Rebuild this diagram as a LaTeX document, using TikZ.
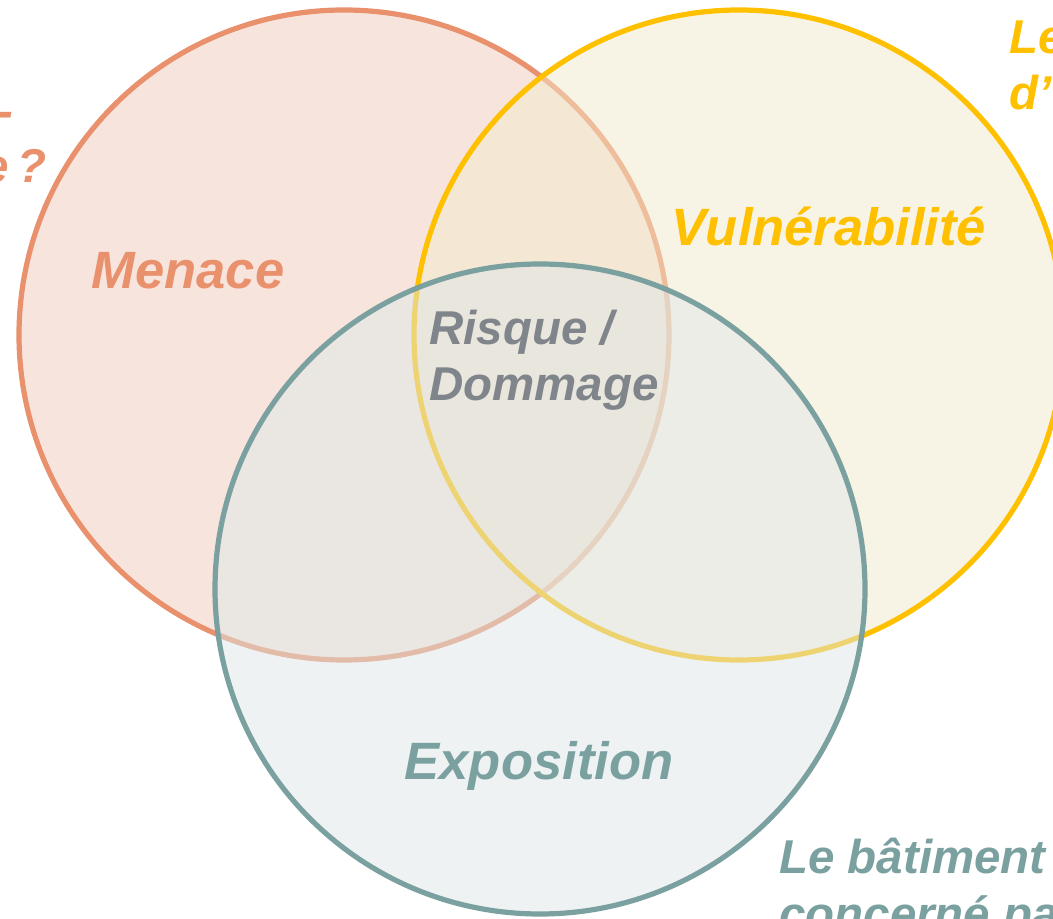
\documentclass[tikz,border=0pt]{standalone}
\usepackage{fontspec}
\setmainfont{Liberation Sans}
\definecolor{orangeS}{HTML}{E9906C}
\definecolor{orangeF}{HTML}{F1CDBD}
\definecolor{yellowS}{HTML}{FFC000}
\definecolor{yellowF}{HTML}{F3EBCD}
\definecolor{tealS}{HTML}{7BA0A0}
\definecolor{tealF}{HTML}{DFE7E7}
\definecolor{grayT}{HTML}{7F858A}
\tikzset{
  venn/.style={line width=3.9pt, fill opacity=0.5},
  lbl/.style={inner sep=0pt, font=\fontsize{39.4}{47}\selectfont\bfseries\itshape},
  small/.style={inner sep=0pt, font=\fontsize{35.6}{43}\selectfont\bfseries\itshape},
}
\begin{document}
\begin{tikzpicture}[x=0.75pt,y=-0.75pt]
\useasboundingbox (0,0) rectangle (1053,919);
\fill[white] (0,0) rectangle (1053,919);
\path[venn, draw=orangeS, fill=orangeF] (344,335) circle[radius=243.75pt];
\path[venn, draw=yellowS, fill=yellowF] (739,335) circle[radius=243.75pt];
\path[venn, draw=tealS, fill=tealF] (540,589) circle[radius=243.75pt];
\node[lbl, text=orangeS, anchor=base] (menace) at (188,289) {Menace};
\node[lbl, text=yellowS, anchor=base] (vuln) at (829,246) {Vulnérabilité};
\node[small, text=grayT, anchor=base west] (risque) at (429,345) {Risque /};
\node[small, text=grayT, anchor=base west] (dommage) at (429,401) {Dommage};
\node[lbl, text=tealS, anchor=base] (expo) at (539,779) {Exposition};
\node[small, text=tealS, anchor=base west] (bat1) at (779,873) {Le bâtiment};
\node[small, text=tealS, anchor=base west] (bat2) at (779,930) {concerné pa};
\node[small, text=yellowS, anchor=base west] (le1) at (1009,54) {Le};
\node[small, text=yellowS, anchor=base west] (le2) at (1009,110) {d’};
\node[small, text=orangeS, anchor=base east] (q1) at (14,128) {-};
\node[small, text=orangeS, anchor=base east] (q2) at (47,183) {e\kern7pt?};
\end{tikzpicture}
\end{document}
